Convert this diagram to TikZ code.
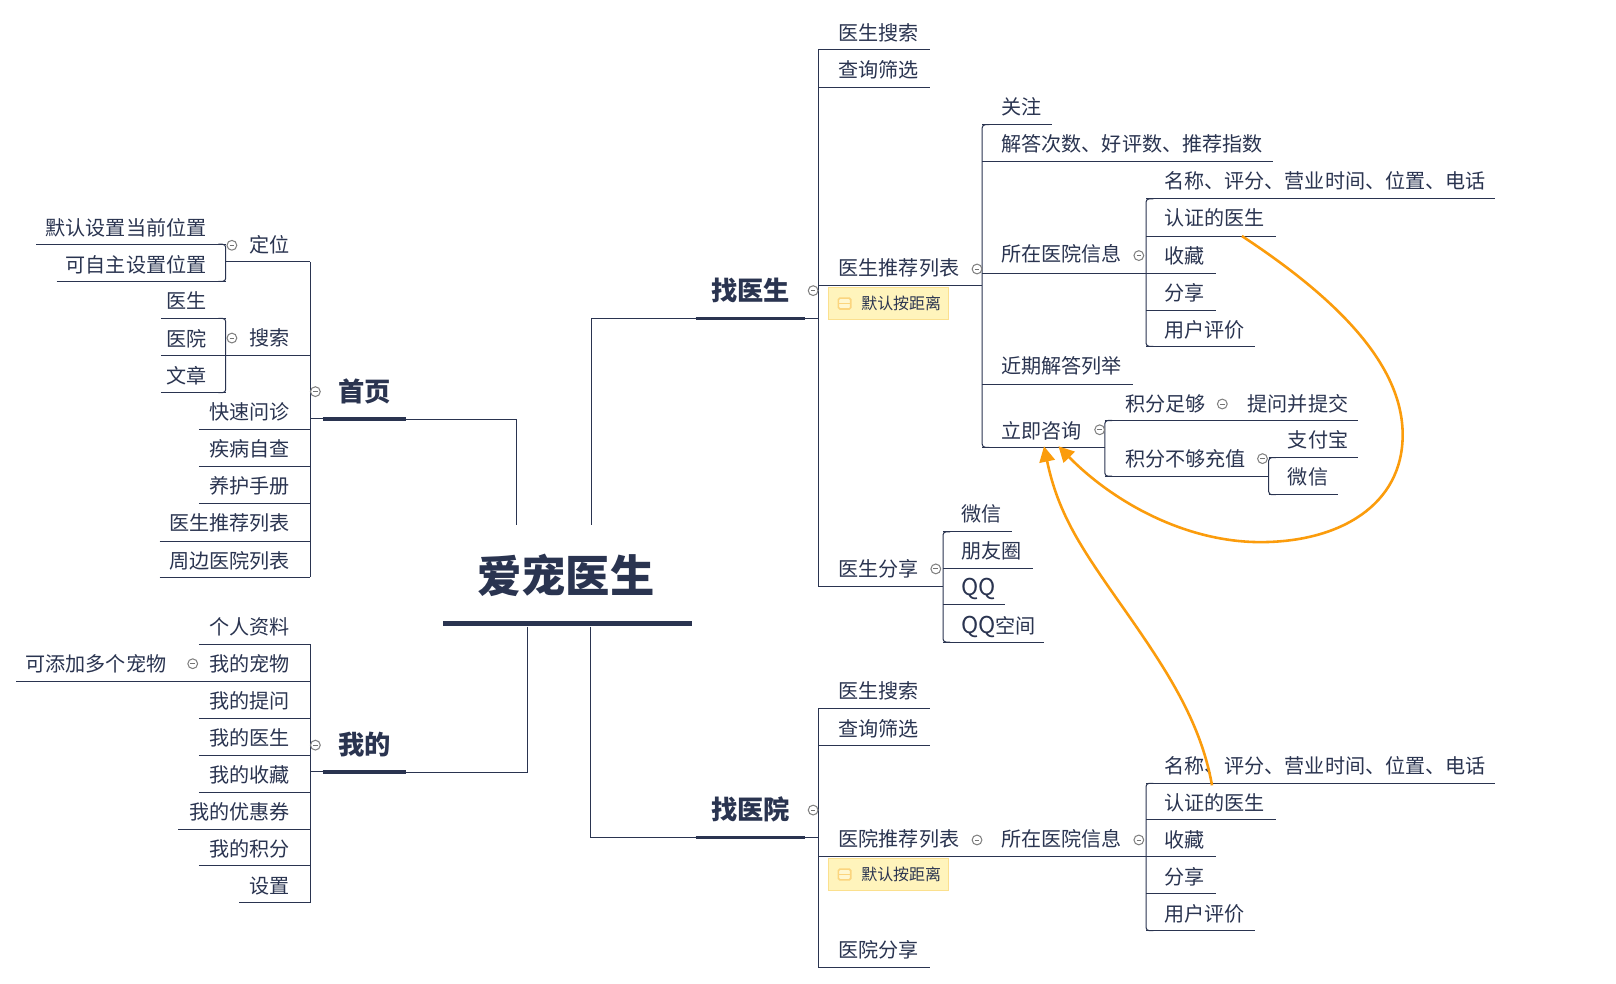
\documentclass[tikz,border=0pt]{standalone}
\usepackage{fontspec}
\setmainfont{Noto Sans CJK SC}
\usetikzlibrary{arrows.meta,calc}
\definecolor{navy}{HTML}{2A3450}
\definecolor{orangeline}{HTML}{FB9C0C}
\definecolor{notefill}{HTML}{FFF4BC}
\definecolor{noteedge}{HTML}{FBE08E}
\definecolor{noteicon}{HTML}{FBD57E}
\tikzset{
  linkline/.style={draw=navy,line width=1pt},
  thickline/.style={draw=navy,line width=3.2pt},
  labelR/.style={anchor=base west,inner sep=0pt,text=navy,font=\fontsize{19.5}{20}\selectfont},
  labelL/.style={anchor=base east,inner sep=0pt,text=navy,font=\fontsize{19.5}{20}\selectfont},
  branchlabel/.style={anchor=base west,inner sep=0pt,text=navy,font=\fontsize{25.5}{27}\selectfont\bfseries},
  rootlabel/.style={anchor=base,inner sep=0pt,text=navy,font=\fontsize{43}{44}\selectfont\bfseries},
  collapse/.style={circle,draw=black!50,fill=white,line width=1pt,minimum size=9.5pt,inner sep=0pt,
    path picture={\draw[black!55,line width=0.9pt] ([xshift=2.5pt]path picture bounding box.west) -- ([xshift=-2.5pt]path picture bounding box.east);}},
  notebox/.style={draw=noteedge,fill=notefill,line width=0.7pt,minimum width=117pt,minimum height=31pt,inner sep=0pt},
  notetext/.style={anchor=base west,inner sep=0pt,text=navy,font=\fontsize{15.5}{16}\selectfont},
  noteglyph/.style={draw=noteicon,fill=notefill!70!white,line width=1.6pt,rounded corners=1.5pt,minimum width=12pt,minimum height=10.5pt,inner sep=0pt,
    path picture={\draw[noteicon,line width=1.6pt] (path picture bounding box.west) -- (path picture bounding box.east);}},
  relation/.style={draw=orangeline,line width=2.5pt,-{Triangle[length=15pt,width=15pt]}},
}
% name, text x, text centre y, line x1, line x2, line y, text
\newcommand{\topicR}[7]{%
  \node[labelR] (#1) at (#2+0.5,#3+7.2) {#7};
  \coordinate (#1-l) at (#4,#6);\coordinate (#1-r) at (#5,#6);
  \draw[linkline] (#1-l) -- (#1-r);}
\newcommand{\topicL}[7]{%
  \node[labelL] (#1) at (#2+0.5,#3+7.2) {#7};
  \coordinate (#1-l) at (#4,#6);\coordinate (#1-r) at (#5,#6);
  \draw[linkline] (#1-l) -- (#1-r);}
% name, text x, text centre y, line x1, line x2, line y, text
\newcommand{\branchtopic}[7]{%
  \node[branchlabel] (#1) at (#2,#3+9.5) {#7};
  \coordinate (#1-l) at (#4,#6);\coordinate (#1-r) at (#5,#6);
  \draw[thickline] (#1-l) -- (#1-r);}
\newcommand{\barR}[2]{\draw[linkline,rounded corners=3pt] ($(#1-l)+(7,0)$) -- (#1-l) -- (#2-l) -- ($(#2-l)+(7,0)$);}
\newcommand{\barL}[2]{\draw[linkline,rounded corners=3pt] ($(#1-r)+(-7,0)$) -- (#1-r) -- (#2-r) -- ($(#2-r)+(-7,0)$);}
\newcommand{\notelabel}[2]{%
  \node[notebox] (#1) at (862,#2) {};
  \node[noteglyph] (#1-icon) at (819.5,#2) {};
  \node[notetext] (#1-text) at (835.5,#2+5.7) {默认按距离};}
\newcommand{\qqtext}{{\fontsize{22.5}{22}\selectfont QQ}}
\begin{document}
\begin{tikzpicture}[x=1pt,y=-1pt]
\useasboundingbox (0,0) rectangle (1568,954);
\fill[white] (0,0) rectangle (1568,954);

% root
\node[rootlabel] (root) at (549,558+17) {爱宠医生};
\coordinate (root-l) at (430,605);\coordinate (root-r) at (671,605);
\draw[draw=navy,line width=4pt] (root-l) -- (root-r);
\coordinate (rootA) at (501,509);\coordinate (rootB) at (574,509);
\coordinate (rootC) at (573,608);\coordinate (rootD) at (512,608);

% ---------- main connectors
\draw[linkline] (rootA) |- (394,407);
\draw[linkline] (rootD) |- (394,749.5);
\draw[linkline] (rootB) |- (675,309);
\draw[linkline] (rootC) |- (675,812.5);

% ---------- left: home
\branchtopic{home}{328}{380}{313}{394}{406.5}{首页}
\topicL{dw}{281}{238}{219}{301}{254}{定位}
\topicL{ss}{281}{328}{156}{301}{345}{搜索}
\topicL{k1}{281}{400}{193}{301}{417}{快速问诊}
\topicL{k2}{281}{436}{193}{301}{453}{疾病自查}
\topicL{k3}{281}{472}{193}{301}{489}{养护手册}
\topicL{k4}{281}{508}{155}{301}{525}{医生推荐列表}
\topicL{k5}{281}{544}{155}{301}{560}{周边医院列表}
\topicL{d1}{200}{221}{35}{219}{237}{默认设置当前位置}
\topicL{d2}{200}{257}{55}{219}{273}{可自主设置位置}
\topicL{s1}{200}{292}{156}{219}{309}{医生}
\node[labelL] (s2) at (200.5,329+7.2) {医院};
\topicL{s3}{200}{365}{156}{219}{381}{文章}
\draw[linkline] (dw-r) -- (k5-r);
\barL{d1}{d2}
\barL{s1}{s3}
\node[collapse] (c-dw) at (225,238) {};
\node[collapse] (c-ss) at (225,328) {};
\node[collapse] (c-home) at (306,380) {};

% ---------- left: mine
\branchtopic{me}{328}{723}{313}{394}{749}{我的}
\topicL{m1}{281}{608}{193}{301}{625}{个人资料}
\topicL{m2}{281}{644}{16}{301}{661}{我的宠物}
\topicL{m3}{281}{680}{193}{301}{697}{我的提问}
\topicL{m4}{281}{716}{193}{301}{733}{我的医生}
\topicL{m5}{281}{752}{193}{301}{769}{我的收藏}
\topicL{m6}{281}{788}{173}{301}{805}{我的优惠券}
\topicL{m7}{281}{824}{193}{301}{840}{我的积分}
\topicL{m8}{281}{860}{232}{301}{876}{设置}
\node[labelL] (m2a) at (161.5,644+7.2) {可添加多个宠物};
\draw[linkline] (m1-r) -- (m8-r);
\node[collapse] (c-m2) at (187,644) {};
\node[collapse] (c-me) at (306,723) {};

% ---------- right: doctor
\branchtopic{doc}{690}{282}{675}{781}{309}{找医生}
\topicR{a1}{813}{32}{794}{902}{48}{医生搜索}
\topicR{a2}{813}{68}{794}{902}{85}{查询筛选}
\topicR{a3}{813}{260}{794}{953}{277}{医生推荐列表}
\topicR{a4}{813}{552}{794}{915}{569}{医生分享}
\draw[linkline] (a1-l) -- (a4-l);
\notelabel{n1}{294.5}
\topicR{b1}{971}{104}{953}{1021}{121}{关注}
\topicR{b2}{971}{140}{953}{1235}{157}{解答次数、好评数、推荐指数}
\topicR{b3}{971}{247}{953}{1112}{265}{所在医院信息}
\topicR{b4}{971}{355}{953}{1099}{373}{近期解答列举}
\topicR{b5}{971}{418}{953}{1072}{434}{立即咨询}
\barR{b1}{b5}
\topicR{e1}{1129}{176}{1112}{1451}{193}{名称、评分、营业时间、位置、电话}
\topicR{e2}{1129}{212}{1112}{1238}{229}{认证的医生}
\topicR{e3}{1129}{248}{1112}{1180}{265}{收藏}
\topicR{e4}{1129}{284}{1112}{1180}{301}{分享}
\topicR{e5}{1129}{320}{1112}{1218}{336}{用户评价}
\barR{e1}{e5}
\topicR{f1}{1091}{392}{1072}{1198}{408}{积分足够}
\topicR{f1a}{1210}{392}{1198}{1318}{408}{提问并提交}
\topicR{f2}{1091}{445}{1072}{1231}{462}{积分不够充值}
\barR{f1}{f2}
\topicR{g1}{1249}{427}{1231}{1318}{444}{支付宝}
\topicR{g2}{1249}{463}{1231}{1298}{480}{微信}
\barR{g1}{g2}
\topicR{h1}{932}{499}{915}{982}{516}{微信}
\topicR{h2}{932}{535}{915}{1002}{552}{朋友圈}
\topicR{h3}{932}{571}{915}{975}{587}{\qqtext}
\topicR{h4}{932}{607}{915}{1013}{623}{\qqtext 空间}
\barR{h1}{h4}
\node[collapse] (c-doc) at (789,282) {};
\node[collapse] (c-a3) at (948,261) {};
\node[collapse] (c-b3) at (1105,248) {};
\node[collapse] (c-b5) at (1067,417) {};
\node[collapse] (c-f1) at (1186,392) {};
\node[collapse] (c-f2) at (1225,445) {};
\node[collapse] (c-a4) at (908,552) {};

% ---------- right: hospital
\branchtopic{hos}{690}{786}{675}{781}{812.5}{找医院}
\topicR{p1}{813}{671}{794}{902}{687}{医生搜索}
\topicR{p2}{813}{707}{794}{902}{723}{查询筛选}
\topicR{p3}{813}{814}{794}{953}{831}{医院推荐列表}
\topicR{p4}{813}{922}{794}{902}{939}{医院分享}
\draw[linkline] (p1-l) -- (p4-l);
\notelabel{n2}{848.5}
\topicR{q1}{971}{814}{953}{1112}{831}{所在医院信息}
\topicR{t1}{1129}{743}{1112}{1451}{760}{名称、评分、营业时间、位置、电话}
\topicR{t2}{1129}{779}{1112}{1238}{795}{认证的医生}
\topicR{t3}{1129}{815}{1112}{1180}{831}{收藏}
\topicR{t4}{1129}{851}{1112}{1180}{867}{分享}
\topicR{t5}{1129}{887}{1112}{1218}{903}{用户评价}
\barR{t1}{t5}
\node[collapse] (c-hos) at (789,786) {};
\node[collapse] (c-p3) at (948,815) {};
\node[collapse] (c-q1) at (1105,815) {};

% ---------- branch stubs to trunks
\draw[linkline] (home-l) -- (home-l -| dw-r);
\draw[linkline] (me-l) -- (me-l -| m1-r);
\draw[linkline] (doc-r) -- (doc-r -| a1-l);
\draw[linkline] (hos-r) -- (hos-r -| p1-l);

% ---------- relations
\coordinate (rel1s) at (1205,229);
\coordinate (rel1e) at (1027,433);
\coordinate (rel2s) at (1176,762);
\coordinate (rel2e) at (1013,433);
\draw[relation] (rel1s) .. controls (1290,285) and (1361,350) .. (1361,422)
  .. controls (1361,490) and (1300,526) .. (1223,526)
  .. controls (1150,526) and (1080,487) .. (rel1e);
\draw[relation] (rel2s) .. controls (1165,700) and (1132,650) .. (1090,590)
  .. controls (1050,533) and (1027,500) .. (rel2e);
\end{tikzpicture}
\end{document}
